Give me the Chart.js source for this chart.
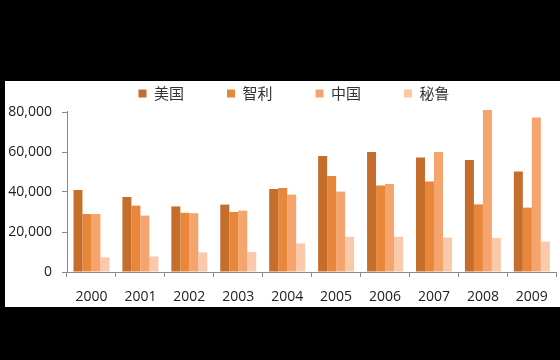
<!DOCTYPE html>
<html>
<head>
<meta charset="utf-8">
<script src="https://cdn.jsdelivr.net/npm/chart.js@4"></script>
<style>
    html, body { margin: 0; padding: 0; background: #000; }
    body { width: 560px; height: 360px; position: relative; overflow: hidden; }
    .chart-box { position: absolute; left: 5px; top: 81px; width: 555px; height: 226px; background: #fff; }
</style>
</head>
<body>
<div class="chart-box"><canvas id="chart" width="555" height="226"></canvas></div>
<script>
// Chart data
const years = ['2000', '2001', '2002', '2003', '2004', '2005', '2006', '2007', '2008', '2009'];
const usa   = [41000, 37500, 32800, 33700, 41500, 58000, 60000, 57200, 56000, 50200];
const chile = [29000, 33200, 29600, 30000, 42000, 48000, 43300, 45200, 33800, 32200];
const china = [29000, 28200, 29400, 30700, 38700, 40200, 44000, 60000, 81000, 77200];
const peru  = [7300, 7800, 9800, 10000, 14300, 17600, 17600, 17200, 17000, 15200];
const yTicks = [0, 20000, 40000, 60000, 80000];

const axisColor = '#8a8a8a';
const tickFont = { family: '"Open Sans", sans-serif', size: 14 };

// the legend in the original sits a little right of centre
const legendShift = {
    id: 'legendShift',
    afterLayout(chart) {
        chart.legend.left += 13;
        chart.legend.right += 13;
    },
};

const ctx = document.getElementById('chart').getContext('2d');
new Chart(ctx, {
    type: 'bar',
    data: {
        labels: years,
        datasets: [
            { label: '美国', data: usa, backgroundColor: '#c56d2b' },
            { label: '智利', data: chile, backgroundColor: '#e8863a' },
            { label: '中国', data: china, backgroundColor: '#f4a46c' },
            { label: '秘鲁', data: peru, backgroundColor: '#f9c9a9' },
        ],
    },
    options: {
        responsive: false,
        animation: false,
        layout: { padding: { top: -38, left: 0, right: 3, bottom: 0 } },
        datasets: { bar: { categoryPercentage: 0.735, barPercentage: 1.0, clip: false } },
        plugins: {
            legend: {
                position: 'top',
                labels: {
                    boxWidth: 8,
                    boxHeight: 8,
                    padding: 43,
                    color: '#333',
                    font: { family: '"Noto Sans CJK SC", sans-serif', size: 15 },
                },
            },
            tooltip: { enabled: false },
        },
        scales: {
            x: {
                grid: { drawOnChartArea: false, color: axisColor, tickLength: 5 },
                border: { color: axisColor, width: 1 },
                ticks: { color: '#222', font: tickFont, padding: 12, maxRotation: 0 },
                afterFit: (scale) => { scale.height = 35; },
            },
            y: {
                min: 0,
                max: 80500,
                grid: { drawOnChartArea: false, color: axisColor, tickLength: 5 },
                border: { color: axisColor, width: 1 },
                ticks: {
                    color: '#222',
                    font: tickFont,
                    padding: 10,
                    callback: (v) => v.toLocaleString('en-US'),
                },
                afterBuildTicks: (scale) => { scale.ticks = yTicks.map((v) => ({ value: v })); },
                afterFit: (scale) => { scale.width = 62; },
            },
        },
    },
    plugins: [legendShift],
});
</script>
</body>
</html>
